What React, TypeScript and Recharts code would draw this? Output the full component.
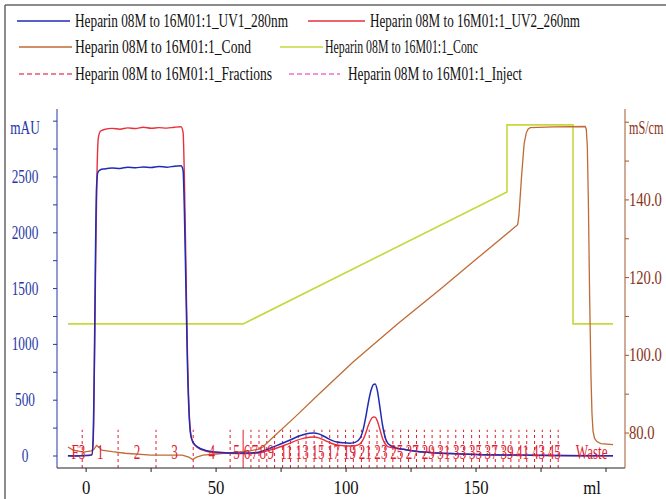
import React from 'react';
import { LineChart, Line, XAxis, YAxis, ReferenceLine, ReferenceDot } from 'recharts';

const FONT = '"Liberation Serif", "Times New Roman", serif';

// ---- data (ml on x) ----
const uv1Ml = [-7, -4, -1, 1, 2.2, 2.7, 3.2, 3.6, 4.0, 4.5, 5.5, 7, 10, 13, 16, 19, 22, 25, 28, 31, 34, 36.5, 37.3, 37.8, 38.4, 39, 39.6, 40.3, 41.2, 43, 46, 50, 55, 60, 65, 68, 71, 75, 78.5, 81, 83.5, 86, 87.5, 89.5, 92, 94.5, 96.5, 99, 101.5, 103.5, 105.4, 106.5, 107.5, 108.5, 109.5, 110.5, 111.2, 112, 113, 114, 115, 116, 117, 119, 122, 126, 132, 140, 150, 165, 180, 190, 202.7];
const uv1Mau = [2, 0, 3, 5, 10, 150, 900, 1800, 2400, 2540, 2565, 2572, 2580, 2576, 2588, 2582, 2590, 2585, 2594, 2588, 2597, 2600, 2560, 2200, 1500, 800, 380, 180, 120, 80, 50, 35, 28, 27, 30, 45, 72, 110, 143, 170, 190, 203, 206, 198, 170, 140, 125, 118, 115, 122, 160, 230, 340, 470, 580, 640, 645, 590, 440, 280, 170, 115, 95, 75, 60, 45, 32, 22, 14, 8, 5, 3, 2];

const uv2Ml = [-7, -1, 2.2, 2.7, 3.2, 3.7, 4.2, 4.7, 5.5, 7, 10, 13, 16, 19, 22, 25, 28, 31, 34, 36.5, 37.3, 37.8, 38.4, 39, 39.6, 40.3, 41.2, 43, 46, 50, 55, 60, 65, 68, 71, 75, 78.5, 81, 83.5, 86, 87.5, 89.5, 92, 94.5, 96.5, 99, 101.5, 103.5, 105.4, 106.5, 107.5, 108.5, 109.5, 110.5, 111.2, 112, 113, 114, 115, 116, 117, 119, 122, 126, 132, 140, 150, 165, 180, 202.7];
const uv2Mau = [2, 3, 10, 120, 800, 1800, 2550, 2850, 2910, 2925, 2935, 2928, 2940, 2934, 2945, 2936, 2942, 2938, 2946, 2950, 2900, 2500, 1700, 900, 420, 190, 120, 75, 45, 30, 24, 22, 24, 35, 55, 85, 115, 140, 158, 168, 170, 163, 138, 112, 100, 92, 90, 92, 110, 145, 200, 270, 325, 350, 348, 315, 240, 160, 110, 85, 78, 68, 60, 45, 32, 22, 14, 8, 5, 2];

const condMl = [-7, -5, -1, 2, 3, 4, 5, 6, 10, 15, 25, 37, 39.5, 41, 42.5, 45, 50, 58, 63, 66, 68, 72, 80, 90, 102.7, 120, 136, 150, 166, 166.5, 167.5, 168.5, 169.3, 170.0, 170.8, 180, 192.0, 192.4, 192.8, 193.2, 193.7, 194.2, 194.6, 195.0, 195.6, 196.5, 198, 202.7];
const condMs = [76.4, 75.6, 75.1, 75.4, 75.8, 76.8, 76.3, 75.6, 75.2, 74.8, 74.3, 74.3, 73.8, 73.2, 73.8, 74.3, 74.6, 75.1, 75.4, 75.8, 76.4, 79.0, 83.9, 90.3, 98.3, 108.2, 116.9, 124.7, 133.6, 136, 146, 154.5, 157.2, 158.2, 158.6, 158.8, 158.9, 158.2, 154, 140, 115, 95, 85, 80.5, 78.6, 77.8, 77.3, 77.0];

const concMl = [-7, 60.4, 161.9, 161.9, 187.3, 187.3, 202.7];
const concPct = [0, 0, 66.3, 100, 100, 0, 0];

const fractionBoundaryMl = [-1.5, 12.3, 26.9, 41.2, 55.4, 60.4, 63.4, 66.5, 69.5, 72.5, 75.6, 78.6, 81.6, 84.6, 87.7, 90.7, 93.7, 96.8, 99.8, 102.8, 105.9, 108.9, 111.9, 114.9, 118.0, 121.0, 124.0, 127.1, 130.1, 133.1, 136.2, 139.2, 142.2, 145.2, 148.3, 151.3, 154.3, 157.4, 160.4, 163.4, 166.5, 169.5, 172.5, 175.5, 178.6, 181.6];
const fractionLabels = ['F3', '1', '2', '3', '4', '5', '6', '7', '8', '9', '11', '13', '15', '17', '19', '21', '23', '25', '27', '29', '31', '33', '35', '37', '39', '41', '43', '45', 'Waste'];
const fractionLabelMl = [-3, 5.4, 19.6, 34.0, 48.3, 57.9, 61.9, 64.9, 68.0, 71.0, 77.1, 83.1, 89.2, 95.2, 101.3, 107.4, 113.4, 119.5, 125.5, 131.6, 137.6, 143.7, 149.8, 155.8, 161.9, 167.9, 174.0, 180.1, 194.5];

const xTicks = [0, 25, 50, 75, 100, 125, 150, 175, 200];
const leftTicks = [0, 250, 500, 750, 1000, 1250, 1500, 1750, 2000, 2250, 2500, 2750, 3000];
const rightTicks = [80, 90, 100, 110, 120, 130, 140, 150, 160];

const zip = (xs: number[], ys: number[]) => xs.map((x, i) => ({ x, y: ys[i] }));
const uv1Data = zip(uv1Ml, uv1Mau);
const uv2Data = zip(uv2Ml, uv2Mau);
const condData = zip(condMl, condMs);
const concData = zip(concMl, concPct);

const C = {
  uv1: '#1f2bb5',
  uv2: '#e8303c',
  cond: '#bf6b35',
  conc: '#c6d83a',
  frac: '#e01c2e',
  inject: '#ee6ccc',
  leftAxis: '#2536a8',
  rightAxis: '#a0562e',
  rightText: '#8a3518',
};

const SqText = ({ x, y, sx, anchor, fill, size, children }: any) => (
  <text
    transform={`translate(${x},${y}) scale(${sx},1)`}
    x={0}
    y={0}
    textAnchor={anchor}
    fill={fill}
    fontSize={size}
    fontFamily={FONT}
  >
    {children}
  </text>
);

const LeftTick = (props: any) => {
  const { x, y, payload } = props;
  const v = payload.value;
  let label = '';
  if (v === 3000) label = 'mAU';
  else if (v % 500 === 0) label = String(v);
  if (!label) return <g />;
  return (
    <SqText x={x - 26} y={y + 6 + (v === 3000 ? 7 : 0)} sx={0.7} anchor="middle" fill={C.leftAxis} size={19}>
      {label}
    </SqText>
  );
};

const RightTick = (props: any) => {
  const { x, y, payload } = props;
  const v = payload.value;
  let label = '';
  if (v === 160) label = 'mS/cm';
  else if (v % 20 === 0) label = v.toFixed(1);
  if (!label) return <g />;
  return (
    <SqText x={x - 2} y={y + 6 + (v === 160 ? 6 : 0)} sx={v === 160 ? 0.64 : 0.77} anchor="start" fill={C.rightText} size={19}>
      {label}
    </SqText>
  );
};

const BottomTick = (props: any) => {
  const { x, y, payload } = props;
  const v = payload.value;
  let label = '';
  if (v === 200) label = 'ml';
  else if (v % 50 === 0) label = String(v);
  if (!label) return <g />;
  return (
    <SqText x={x + (v === 200 ? -14 : 0)} y={y + 20} sx={0.88} anchor="middle" fill="#111" size={19}>
      {label}
    </SqText>
  );
};

const FractionText = (label: string) => (props: any) => (
  <SqText x={props.cx} y={props.cy + 7} sx={0.64} anchor="middle" fill={C.frac} size={20.5}>
    {label}
  </SqText>
);

const legendItems = [
  { name: 'Heparin 08M to 16M01:1_UV1_280nm', color: C.uv1, dash: undefined, x1: 17, x2: 70, tx: 75, tw: 213, y: 21 },
  { name: 'Heparin 08M to 16M01:1_UV2_260nm', color: C.uv2, dash: undefined, x1: 308, x2: 365, tx: 370, tw: 210, y: 21 },
  { name: 'Heparin 08M to 16M01:1_Cond', color: C.cond, dash: undefined, x1: 19, x2: 72, tx: 75, tw: 176, y: 47 },
  { name: 'Heparin 08M to 16M01:1_Conc', color: C.conc, dash: undefined, x1: 280, x2: 323, tx: 325, tw: 153, y: 47 },
  { name: 'Heparin 08M to 16M01:1_Fractions', color: '#f05070', dash: '5 3', x1: 19, x2: 72, tx: 75, tw: 197, y: 74 },
  { name: 'Heparin 08M to 16M01:1_Inject', color: C.inject, dash: '5 3', x1: 289, x2: 340, tx: 348, tw: 174, y: 74 },
];

export default function App() {
  return (
    <div style={{ position: 'fixed', left: 0, top: 0, width: 666, height: 499, background: '#fff', overflow: 'hidden' }}>
      <svg width={666} height={499} style={{ position: 'absolute', left: 0, top: 0 }}>
        <line x1={5} y1={5} x2={666} y2={5} stroke="#666" strokeWidth={1.5} />
        <line x1={5} y1={5} x2={5} y2={499} stroke="#666" strokeWidth={1.5} />
        {legendItems.map((it) => (
          <g key={it.name}>
            <line x1={it.x1} y1={it.y} x2={it.x2} y2={it.y} stroke={it.color} strokeWidth={1.5} strokeDasharray={it.dash} />
            <text
              x={it.tx}
              y={it.y + 6}
              fontFamily={FONT}
              fontSize={18}
              fill="#111"
              textLength={it.tw}
              lengthAdjust="spacingAndGlyphs"
            >
              {it.name}
            </text>
          </g>
        ))}
      </svg>
      <div style={{ position: 'absolute', left: 0, top: 0 }}>
        <LineChart width={666} height={499} margin={{ top: 109, right: 0, bottom: 0, left: 7 }}>
          <XAxis
            dataKey="x"
            type="number"
            domain={[-11.2, 207.3]}
            allowDataOverflow
            ticks={xTicks}
            tick={<BottomTick />}
            tickSize={4}
            height={31}
            stroke="#222"
            interval={0}
          />
          <YAxis
            yAxisId="left"
            type="number"
            domain={[-107.5, 3109]}
            allowDataOverflow
            ticks={leftTicks}
            tick={<LeftTick />}
            tickSize={4}
            width={50}
            stroke={C.leftAxis}
            interval={0}
          />
          <YAxis
            yAxisId="right"
            orientation="right"
            type="number"
            domain={[71.0, 163.4]}
            allowDataOverflow
            ticks={rightTicks}
            tick={<RightTick />}
            tickSize={4}
            width={41}
            stroke={C.rightAxis}
            interval={0}
          />
          <YAxis yAxisId="conc" type="number" domain={[-72.4, 108]} allowDataOverflow hide width={0} />

          {fractionBoundaryMl.map((b, i) => (
            <ReferenceLine
              key={'fb' + i}
              yAxisId="left"
              segment={[{ x: b, y: -107.5 }, { x: b, y: 235 }]}
              stroke={C.frac}
              strokeWidth={1}
              strokeDasharray={b === 60.4 ? undefined : '3 3'}
              ifOverflow="visible"
            />
          ))}

          <Line data={concData} yAxisId="conc" dataKey="y" type="linear" stroke={C.conc} strokeWidth={1.6} dot={false} isAnimationActive={false} />
          <Line data={condData} yAxisId="right" dataKey="y" type="linear" stroke={C.cond} strokeWidth={1.3} dot={false} isAnimationActive={false} />
          <Line data={uv2Data} yAxisId="left" dataKey="y" type="monotone" stroke={C.uv2} strokeWidth={1.4} dot={false} isAnimationActive={false} />
          <Line data={uv1Data} yAxisId="left" dataKey="y" type="monotone" stroke={C.uv1} strokeWidth={1.5} dot={false} isAnimationActive={false} />

          {fractionLabels.map((lab, i) => (
            <ReferenceDot
              key={'fl' + i}
              yAxisId="left"
              x={fractionLabelMl[i]}
              y={36}
              r={0}
              ifOverflow="visible"
              shape={FractionText(lab)}
            />
          ))}
        </LineChart>
      </div>
    </div>
  );
}
